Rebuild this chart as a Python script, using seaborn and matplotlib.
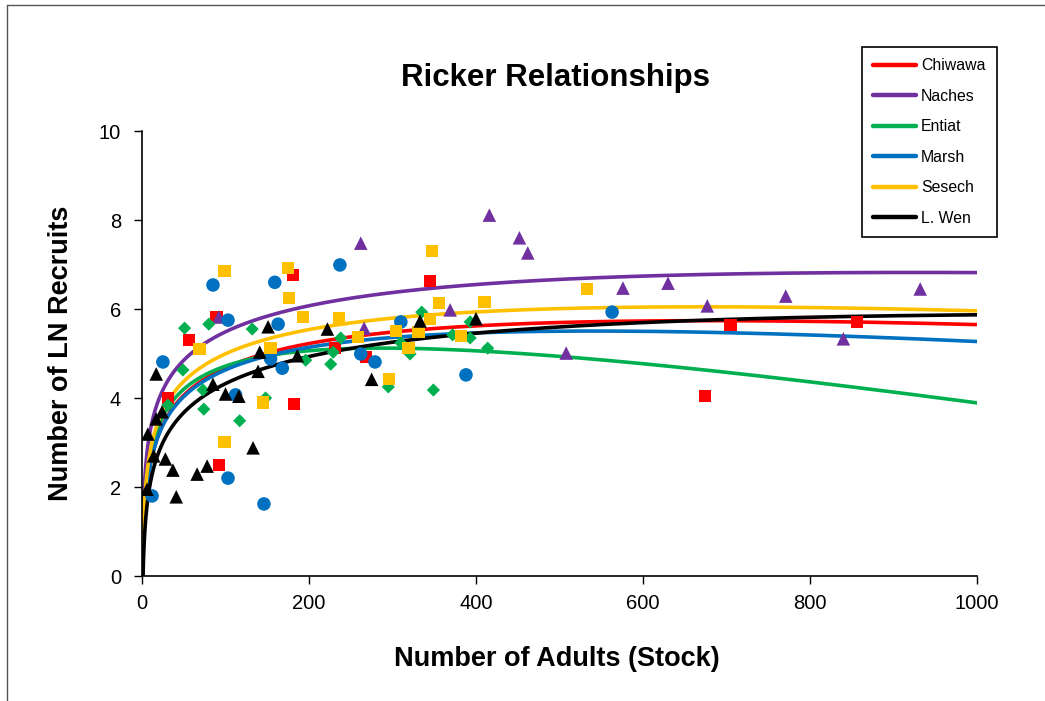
import numpy as np
import pandas as pd
import matplotlib
matplotlib.use("Agg")
import matplotlib.pyplot as plt
import seaborn as sns
from matplotlib.lines import Line2D

# ---- observed stock / ln-recruit pairs by population ----
chiwawa_s = [31, 56, 89, 92, 181, 182, 231, 268, 345, 674, 705, 856]
chiwawa_r = [4.00, 5.30, 5.82, 2.49, 6.76, 3.86, 5.12, 4.92, 6.63, 4.04, 5.64, 5.71]

naches_s = [92, 262, 266, 369, 416, 452, 462, 508, 576, 630, 677, 771, 840, 932]
naches_r = [5.82, 7.48, 5.57, 5.98, 8.11, 7.60, 7.26, 5.01, 6.47, 6.58, 6.07, 6.29, 5.33, 6.45]

entiat_s = [31, 49, 51, 73, 74, 80, 117, 132, 148, 196, 226, 229, 238, 295, 310,
            321, 335, 349, 372, 393, 393, 414]
entiat_r = [3.84, 4.63, 5.57, 4.18, 3.75, 5.66, 3.49, 5.55, 4.00, 4.85, 4.76, 5.03,
            5.35, 4.25, 5.24, 4.99, 5.93, 4.18, 5.42, 5.71, 5.35, 5.12]

marsh_s = [12, 25, 85, 103, 103, 112, 146, 154, 159, 163, 168, 237, 262, 279, 310, 388, 563]
marsh_r = [1.80, 4.81, 6.54, 5.75, 2.20, 4.07, 1.62, 4.88, 6.60, 5.66, 4.67, 6.99,
           4.99, 4.81, 5.71, 4.52, 5.93]

sesech_s = [69, 99, 99, 145, 154, 175, 176, 193, 236, 259, 296, 304, 319, 331, 345,
            347, 356, 382, 410, 533]
sesech_r = [5.10, 6.85, 3.01, 3.90, 5.12, 6.92, 6.25, 5.82, 5.80, 5.37, 4.43, 5.50,
            5.12, 5.48, 5.78, 7.30, 6.13, 5.39, 6.16, 6.45]

lwen_s = [6, 7, 14, 17, 17, 24, 28, 37, 41, 66, 78, 85, 100, 116, 133, 139, 141, 151,
          186, 222, 275, 333, 400]
lwen_r = [1.95, 3.19, 2.70, 3.53, 4.54, 3.69, 2.63, 2.38, 1.78, 2.29, 2.47, 4.31, 4.09,
          4.04, 2.88, 4.60, 5.03, 5.60, 4.95, 5.55, 4.42, 5.73, 5.78]

# ---- fitted Ricker parameters: ln(R) = ln(alpha) + ln(S) - beta * S ----
populations = ["Chiwawa", "Naches", "Entiat", "Marsh", "Sesech", "L. Wen"]
ln_alpha = [0.222, 0.991, 0.460, 0.212, 0.537, -0.197]
beta = [0.00148, 0.00108, 0.003477, 0.00185, 0.001485, 0.000841]

colors = ["#FF0000", "#7030A0", "#00B050", "#0070C0", "#FFC000", "#000000"]
markers = ["s", "^", "D", "o", "s", "^"]
marker_sizes = [80, 95, 45, 95, 80, 95]

stocks = [chiwawa_s, naches_s, entiat_s, marsh_s, sesech_s, lwen_s]
recruits = [chiwawa_r, naches_r, entiat_r, marsh_r, sesech_r, lwen_r]

sns.set_theme(style="ticks")
plt.rcParams["font.family"] = ["Liberation Sans", "DejaVu Sans"]
plt.rcParams["text.color"] = "black"
plt.rcParams["axes.labelcolor"] = "black"

fig = plt.figure(figsize=(10.45, 7.01), dpi=100)
ax = fig.add_axes([0.1359, 0.1783, 0.7990, 0.6348])

# fitted curves
s_grid = np.linspace(0.05, 1000, 3000)
for name, la, b, c in zip(populations, ln_alpha, beta, colors):
    curve = pd.DataFrame({"S": s_grid, "R": la + np.log(s_grid) - b * s_grid})
    sns.lineplot(data=curve, x="S", y="R", color=c, lw=2.6, ax=ax,
                 legend=False, zorder=2)

# observations
for s, r, c, m, ms in zip(stocks, recruits, colors, markers, marker_sizes):
    obs = pd.DataFrame({"S": s, "R": r})
    sns.scatterplot(data=obs, x="S", y="R", color=c, marker=m, s=ms,
                    edgecolor="none", linewidth=0, ax=ax, legend=False, zorder=3)

ax.set_xlim(0, 1000)
ax.set_ylim(0, 10)
ax.set_xticks(np.arange(0, 1001, 200))
ax.set_yticks(np.arange(0, 11, 2))
ax.tick_params(axis="both", direction="out", length=6, width=1, color="black",
               labelsize=14.5, labelcolor="black", pad=7)
ax.tick_params(axis="y", pad=9)
for side in ["top", "right"]:
    ax.spines[side].set_visible(False)
for side in ["left", "bottom"]:
    ax.spines[side].set_color("black")
    ax.spines[side].set_linewidth(1.2)

ax.set_xlabel("Number of Adults (Stock)", fontsize=19.5, fontweight="bold")
ax.set_ylabel("Number of LN Recruits", fontsize=19.5, fontweight="bold")
ax.xaxis.set_label_coords(0.497, -0.158)
ax.yaxis.set_label_coords(-0.082, 0.5)

fig.text(0.532, 1 - 78 / 701, "Ricker Relationships", fontsize=22.5,
         fontweight="bold", ha="center", va="center")

handles = [Line2D([0], [0], color=c, lw=3.2) for c in colors]
leg = fig.legend(handles, populations, loc="upper left",
                 bbox_to_anchor=(0.825, 0.933), fontsize=11.4, frameon=True,
                 fancybox=False, edgecolor="black", framealpha=1,
                 handlelength=2.7, handletextpad=0.32, labelspacing=0.98,
                 borderpad=0.7, borderaxespad=0)
leg.get_frame().set_linewidth(1.2)

# chart-area outline
fig.add_artist(Line2D([7 / 1045, 7 / 1045], [0, 1 - 5 / 701],
                      transform=fig.transFigure, color="#555555", lw=1))
fig.add_artist(Line2D([7 / 1045, 1], [1 - 5 / 701, 1 - 5 / 701],
                      transform=fig.transFigure, color="#555555", lw=1))

fig.savefig("out.png", dpi=100)
